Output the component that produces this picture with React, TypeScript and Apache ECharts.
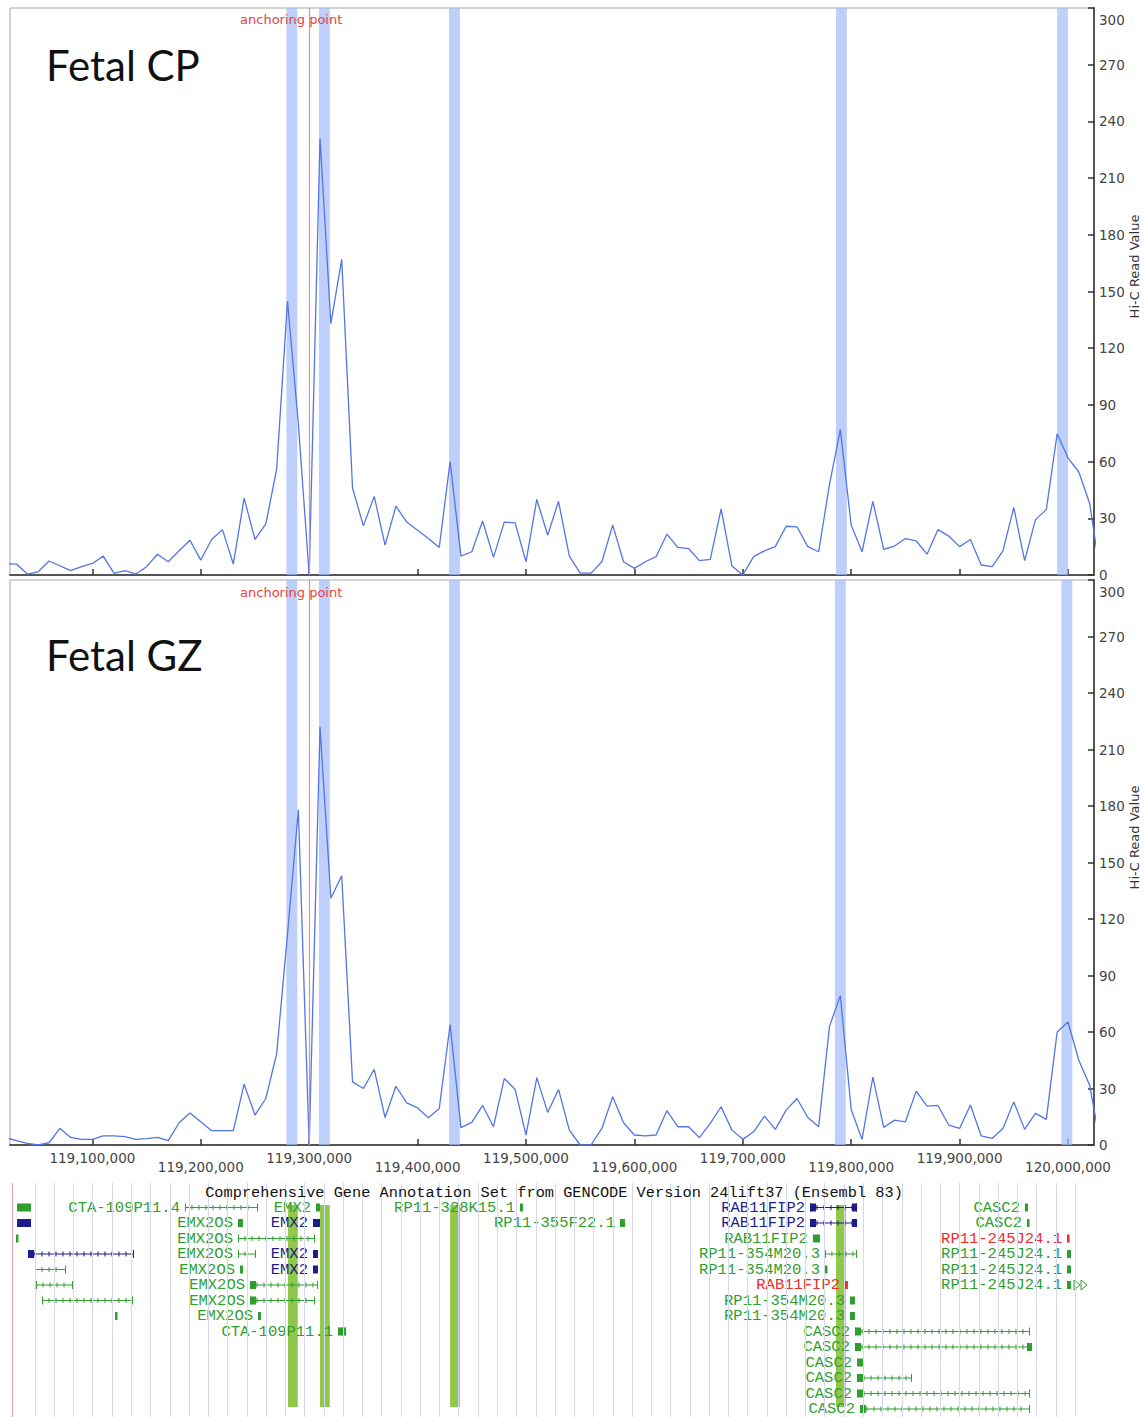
import React, { useEffect, useRef } from 'react';
import * as echarts from 'echarts';

// ---------- data ----------
const X_MIN = 119024000;
const X_MAX = 120024000;
const BIN_START = 119020000;
const BIN_SIZE = 10000;
const ANCHOR = 119300000;

const cpValues = [
  6, 5.8, 0.5, 1.7, 7.4, 4.9, 2.3, 4.4, 6.1, 10,
  0.9, 2.3, 0.5, 4.4, 11, 7, 12.8, 18.4, 7.9, 18.8,
  24, 5.8, 40.7, 18.8, 27, 56, 145, 80, 0, 231,
  133, 167, 46, 26, 41.6, 15.8, 36.4, 28, 23.7, 19.3,
  14.6, 60, 10, 12.3, 28.6, 9.3, 28, 27.6, 7, 40,
  21, 39, 10, 1, 1, 7, 26.4, 7, 3.5, 7,
  9.7, 21.6, 14.6, 14, 7.6, 8.3, 35, 4.7, 0, 9.7,
  12.8, 15, 25.8, 25.5, 15, 12.3, 48, 77, 26.4, 12.3,
  39, 13.5, 15.3, 19.3, 18, 11, 24, 20.6, 15, 18.8,
  5.3, 4.4, 12.8, 35.7, 7.6, 29.3, 34.6, 74.7, 62, 54.5,
  37.8, 0,
];

const gzValues = [
  4, 2.3, 0.9, 0, 1.2, 8.8, 4, 3, 3, 4.8,
  4.8, 4.4, 3, 3.4, 4, 2.3, 11.8, 17, 12.3, 7.6,
  7.6, 7.6, 32.3, 15.9, 24.7, 48.5, 112, 178, 0, 222,
  131, 143, 33.5, 30, 40.2, 14.6, 31.2, 22.4, 19.7, 14.5,
  19.4, 63.9, 9.2, 12, 21, 9.7, 35.3, 29.5, 5.3, 35.8,
  17.3, 29.5, 7.9, 0, 0, 8.8, 25.6, 11.8, 5.3, 4.8,
  5.3, 18.2, 9.7, 9.7, 3.9, 11.5, 20.3, 7.9, 3, 7,
  15.3, 8.3, 18.5, 24.7, 14.6, 9.7, 63, 79.4, 18.9, 3,
  36.1, 9.3, 13.2, 12.3, 28.6, 20.6, 21, 10.6, 8.8, 21.2,
  4.8, 3.5, 8.8, 22.9, 8.3, 16.8, 13.6, 60, 65.3, 45,
  31.7, 0,
];

const xTickValues = [
  119100000, 119200000, 119300000, 119400000, 119500000,
  119600000, 119700000, 119800000, 119900000, 120000000,
];
const Y_MAX = 300;
const Y_INTERVAL = 30;
const Y_NAME = 'Hi-C Read Value';

const BAND_WIDTH = 10000;
const cpBandStarts = [119279000, 119309000, 119429000, 119786000, 119990000];
const gzBandStarts = [119279000, 119309000, 119429000, 119785000, 119994000];

const GREEN_BAR_WIDTH = 9000;
const greenBarStarts = [119280500, 119310000, 119430000, 119786000];
const GREEN_BAR_TOP_ROW = 0.84;
const GREEN_BAR_BOTTOM_ROW = 13.87;

const ANNO_GRID_START = 119047000;
const ANNO_GRID_STEP = 17770;
const ANNO_GRID_COUNT = 55;
const ANNO_RED_LINE = 119026500;

const annotationTitle =
  'Comprehensive Gene Annotation Set from GENCODE Version 24lift37 (Ensembl 83)';

const geneNames = [
  '', 'CTA-109P11.4', 'EMX2', 'RP11-328K15.1', 'RAB11FIP2', 'CASC2',
  '', 'EMX2OS', 'EMX2', 'RP11-355F22.1', 'RAB11FIP2', 'CASC2',
  '', 'EMX2OS', 'RAB11FIP2', 'RP11-245J24.1',
  '', 'EMX2OS', 'EMX2', 'RP11-354M20.3', 'RP11-245J24.1',
  '', 'EMX2OS', 'EMX2', 'RP11-354M20.3', 'RP11-245J24.1',
  '', 'EMX2OS', 'RAB11FIP2', 'RP11-245J24.1',
  '', 'EMX2OS', 'RP11-354M20.3',
  '', 'EMX2OS', 'RP11-354M20.3',
  'CTA-109P11.1', 'CASC2',
  'CASC2', 'CASC2', 'CASC2', 'CASC2', 'CASC2',
];
const geneRows = [
  1, 1, 1, 1, 1, 1,
  2, 2, 2, 2, 2, 2,
  3, 3, 3, 3,
  4, 4, 4, 4, 4,
  5, 5, 5, 5, 5,
  6, 6, 6, 6,
  7, 7, 7,
  8, 8, 8,
  9, 9,
  10, 11, 12, 13, 14,
];
const geneStarts = [
  119030500, 119185400, 119306300, 119494500, 119762000, 119960300,
  119030500, 119234300, 119303500, 119586700, 119762000, 119962200,
  119029500, 119234300, 119764700, 119999100,
  119040600, 119234300, 119303500, 119775800, 119999100,
  119047100, 119236200, 119303500, 119775800, 119999100,
  119048000, 119245400, 119794300, 119999100,
  119053500, 119245400, 119798900,
  119120900, 119252800, 119798900,
  119326600, 119803500,
  119803500, 119805400, 119805400, 119805400, 119808100,
];
const geneEnds = [
  119043400, 119252800, 119310000, 119497200, 119805400, 119963100,
  119043400, 119238900, 119310000, 119591300, 119805400, 119964000,
  119031400, 119305400, 119771200, 120000900,
  119138400, 119250900, 119308100, 119805400, 120002800,
  119075700, 119238900, 119308100, 119777700, 120002800,
  119082100, 119308100, 119797000, 120002800,
  119137500, 119305400, 119803500,
  119121800, 119255500, 119803500,
  119334000, 119965000,
  119966800, 119810900, 119856100, 119965000, 119965000,
];
const geneColors = [
  'g', 'g', 'g', 'g', 'n', 'g',
  'n', 'g', 'n', 'g', 'n', 'g',
  'g', 'g', 'g', 'r',
  'n', 'g', 'n', 'g', 'g',
  'g', 'g', 'n', 'g', 'g',
  'g', 'g', 'r', 'g',
  'g', 'g', 'g',
  'g', 'g', 'g',
  'g', 'g',
  'g', 'g', 'g', 'g', 'g',
];
const geneShapes = [
  'box', 'line', 'box', 'box', 'lineLR', 'box',
  'box', 'box', 'box', 'box', 'lineLR', 'box',
  'box', 'line', 'box', 'box',
  'lineL', 'line', 'box', 'line', 'box',
  'line', 'box', 'box', 'box', 'box',
  'line', 'lineL', 'box', 'boxArrow',
  'line', 'lineL', 'box',
  'box', 'box', 'box',
  'lineLR', 'lineL',
  'lineLR', 'box', 'lineL', 'lineL', 'lineL',
];

// ---------- styles ----------
const COLORS: Record<string, string> = { g: '#2f9e2f', n: '#1c1c8a', r: '#ee2c2c' };
const LINE_COLOR = '#5276e4';
const BAND_COLOR = 'rgba(165,188,250,0.72)';
const ANCHOR_COLOR = '#f28c8c';
const AXIS_COLOR = '#555555';
const LABEL_COLOR = '#444444';
const AXIS_FONT = '"DejaVu Sans", Verdana, sans-serif';
const MONO_FONT = '"Liberation Mono", "DejaVu Sans Mono", monospace';

const fmt = (v: number) => String(v).replace(/\B(?=(\d{3})+(?!\d))/g, ',');

function makeSeriesData(values: number[]) {
  return values.map((v, i) => [BIN_START + i * BIN_SIZE, v]);
}

function bandAreas(starts: number[], width: number) {
  return starts.map((s) => [{ xAxis: s }, { xAxis: s + width }]);
}

function yAxisFor(gridIndex: number) {
  return {
    gridIndex,
    type: 'value',
    position: 'right',
    min: 0,
    max: Y_MAX,
    interval: Y_INTERVAL,
    axisLine: { show: true, lineStyle: { color: AXIS_COLOR, width: 2 } },
    axisTick: { show: true, inside: true, length: 6, lineStyle: { color: '#333', width: 1.5 } },
    axisLabel: {
      color: LABEL_COLOR,
      fontFamily: AXIS_FONT,
      fontSize: 13.5,
      margin: 5,
      formatter: (v: number) => (v === Y_MAX ? `{t|${v}}` : String(v)),
      rich: { t: { padding: [24, 0, 0, 0], color: LABEL_COLOR, fontFamily: AXIS_FONT, fontSize: 13.5 } },
    },
    splitLine: { show: false },
  };
}

function xAxisFor(gridIndex: number, withLabels: boolean) {
  return {
    gridIndex,
    type: 'value',
    min: X_MIN,
    max: X_MAX,
    axisLine: { show: true, onZero: false, lineStyle: { color: AXIS_COLOR, width: 2 } },
    axisTick: {
      show: true,
      inside: true,
      length: 6,
      customValues: xTickValues,
      lineStyle: { color: '#333', width: 1.5 },
    },
    axisLabel: withLabels
      ? {
          show: true,
          customValues: xTickValues,
          color: LABEL_COLOR,
          fontFamily: AXIS_FONT,
          fontSize: 13.5,
          margin: 6,
          formatter: (v: number) => {
            const idx = Math.round((v - xTickValues[0]) / 100000);
            return idx % 2 === 0 ? `{u|${fmt(v)}}` : `{d|${fmt(v)}}`;
          },
          rich: {
            u: { lineHeight: 14, color: LABEL_COLOR, fontFamily: AXIS_FONT, fontSize: 13.5 },
            d: { lineHeight: 32, color: LABEL_COLOR, fontFamily: AXIS_FONT, fontSize: 13.5 },
          },
        }
      : { show: false },
    splitLine: { show: false },
  };
}

function renderGene(params: any, api: any) {
  const i = api.value(3);
  const s = api.coord([api.value(0), api.value(2)]);
  const e = api.coord([api.value(1), api.value(2)]);
  const y = s[1];
  const x0 = s[0];
  const x1 = Math.max(e[0], x0 + 2.5);
  const color = COLORS[geneColors[i]];
  const shape = geneShapes[i];
  const children: any[] = [];
  if (shape === 'box' || shape === 'boxArrow') {
    children.push({ type: 'rect', shape: { x: x0, y: y - 4, width: x1 - x0, height: 8 }, style: { fill: color } });
    if (shape === 'boxArrow') {
      for (let k = 0; k < 2; k++) {
        const ax = x1 + 3 + k * 7;
        children.push({
          type: 'polyline',
          shape: { points: [[ax, y - 5], [ax + 6, y], [ax, y + 5], [ax, y - 5]] },
          style: { stroke: color, fill: 'none', lineWidth: 1 },
        });
      }
    }
  } else {
    children.push({ type: 'line', shape: { x1: x0, y1: y, x2: x1, y2: y }, style: { stroke: color, lineWidth: 1 } });
    children.push({ type: 'line', shape: { x1: x0 + 0.5, y1: y - 4, x2: x0 + 0.5, y2: y + 4 }, style: { stroke: color, lineWidth: 1 } });
    children.push({ type: 'line', shape: { x1: x1 - 0.5, y1: y - 4, x2: x1 - 0.5, y2: y + 4 }, style: { stroke: color, lineWidth: 1 } });
    for (let hx = x0 + 7; hx < x1 - 4; hx += 7) {
      children.push({ type: 'line', shape: { x1: hx, y1: y - 2.5, x2: hx, y2: y + 2.5 }, style: { stroke: color, lineWidth: 1 } });
    }
    if (shape === 'lineL' || shape === 'lineLR') {
      children.push({ type: 'rect', shape: { x: x0, y: y - 4, width: Math.min(6, x1 - x0), height: 8 }, style: { fill: color } });
    }
    if (shape === 'lineLR') {
      children.push({ type: 'rect', shape: { x: Math.max(x0, x1 - 5), y: y - 4, width: Math.min(5, x1 - x0), height: 8 }, style: { fill: color } });
    }
  }
  if (geneNames[i]) {
    children.push({
      type: 'text',
      style: {
        text: geneNames[i],
        x: x0 - 5,
        y: y + 0.5,
        align: 'right',
        verticalAlign: 'middle',
        fill: color,
        font: `15.5px ${MONO_FONT}`,
      },
    });
  }
  return { type: 'group', children };
}

export default function App() {
  const ref = useRef<HTMLDivElement>(null);

  useEffect(() => {
    if (!ref.current) return;
    const chart = echarts.init(ref.current, undefined, { renderer: 'svg' });

    const annoGridLines = Array.from({ length: ANNO_GRID_COUNT }, (_, k) => ({
      xAxis: ANNO_GRID_START + k * ANNO_GRID_STEP,
    }));

    const gridBase = { outerBoundsMode: 'none', containLabel: false };

    const option: any = {
      animation: false,
      backgroundColor: '#ffffff',
      title: [
        {
          text: 'Fetal CP',
          left: 46,
          top: 44,
          padding: 0,
          textStyle: { fontFamily: 'Lato, "Open Sans", sans-serif', fontSize: 42, fontWeight: 'normal', color: '#111' },
        },
        {
          text: 'Fetal GZ',
          left: 46,
          top: 634,
          padding: 0,
          textStyle: { fontFamily: 'Lato, "Open Sans", sans-serif', fontSize: 42, fontWeight: 'normal', color: '#111' },
        },
        {
          text: annotationTitle,
          left: 554,
          top: 1185,
          padding: 0,
          textAlign: 'center',
          textStyle: { fontFamily: MONO_FONT, fontSize: 15.3, fontWeight: 'normal', color: '#111' },
        },
      ],
      grid: [
        { ...gridBase, left: 10, top: 8, width: 1084, height: 567, show: true, borderColor: '#a8a8a8', borderWidth: 1, backgroundColor: 'transparent' },
        { ...gridBase, left: 10, top: 580, width: 1084, height: 565, show: true, borderColor: '#a8a8a8', borderWidth: 1, backgroundColor: 'transparent' },
        { ...gridBase, left: 10, top: 1183, width: 1084, height: 234 },
      ],
      xAxis: [
        xAxisFor(0, false),
        xAxisFor(1, true),
        { gridIndex: 2, type: 'value', min: X_MIN, max: X_MAX, show: false },
      ],
      yAxis: [
        yAxisFor(0),
        yAxisFor(1),
        { gridIndex: 2, type: 'value', min: -0.58, max: 14.517, inverse: true, show: false },
      ],
      series: [
        // bands (behind)
        {
          type: 'line', xAxisIndex: 0, yAxisIndex: 0, data: [], z: 1, silent: true,
          markArea: { silent: true, itemStyle: { color: BAND_COLOR }, data: bandAreas(cpBandStarts, BAND_WIDTH) },
        },
        {
          type: 'line', xAxisIndex: 1, yAxisIndex: 1, data: [], z: 1, silent: true,
          markArea: { silent: true, itemStyle: { color: BAND_COLOR }, data: bandAreas(gzBandStarts, BAND_WIDTH) },
        },
        // anchor lines
        {
          type: 'line', xAxisIndex: 0, yAxisIndex: 0, data: [], z: 2, silent: true,
          markLine: { silent: true, symbol: 'none', label: { show: false }, lineStyle: { color: ANCHOR_COLOR, width: 1.2, type: 'solid' }, data: [{ xAxis: ANCHOR }] },
        },
        {
          type: 'line', xAxisIndex: 1, yAxisIndex: 1, data: [], z: 2, silent: true,
          markLine: { silent: true, symbol: 'none', label: { show: false }, lineStyle: { color: ANCHOR_COLOR, width: 1.2, type: 'solid' }, data: [{ xAxis: ANCHOR }] },
        },
        // Hi-C lines
        {
          name: 'Fetal CP', type: 'line', xAxisIndex: 0, yAxisIndex: 0, data: makeSeriesData(cpValues),
          showSymbol: false, clip: true, z: 3, lineStyle: { color: LINE_COLOR, width: 1.3 },
        },
        {
          name: 'Fetal GZ', type: 'line', xAxisIndex: 1, yAxisIndex: 1, data: makeSeriesData(gzValues),
          showSymbol: false, clip: true, z: 3, lineStyle: { color: LINE_COLOR, width: 1.3 },
        },
        // annotation vertical grid
        {
          type: 'line', xAxisIndex: 2, yAxisIndex: 2, data: [], z: 0, silent: true,
          markLine: {
            silent: true, symbol: 'none', label: { show: false },
            lineStyle: { color: '#d4d7ee', width: 1, type: 'solid' },
            data: annoGridLines,
          },
        },
        {
          type: 'line', xAxisIndex: 2, yAxisIndex: 2, data: [], z: 0, silent: true,
          markLine: {
            silent: true, symbol: 'none', label: { show: false },
            lineStyle: { color: '#f0a0a0', width: 1, type: 'solid' },
            data: [{ xAxis: ANNO_RED_LINE }],
          },
        },
        // genes
        {
          type: 'custom', xAxisIndex: 2, yAxisIndex: 2, z: 3, silent: true,
          renderItem: renderGene,
          encode: { x: [0, 1], y: 2 },
          data: geneNames.map((_, i) => [geneStarts[i], geneEnds[i], geneRows[i], i]),
        },
        // green highlight bars
        {
          type: 'line', xAxisIndex: 2, yAxisIndex: 2, data: [], z: 6, silent: true,
          markArea: {
            silent: true,
            itemStyle: { color: 'rgba(138,198,64,0.95)' },
            data: greenBarStarts.map((s) => [
              { xAxis: s, yAxis: GREEN_BAR_TOP_ROW },
              { xAxis: s + GREEN_BAR_WIDTH, yAxis: GREEN_BAR_BOTTOM_ROW },
            ]),
          },
        },
      ],
    };

    chart.setOption(option);

    const px0 = chart.convertToPixel({ xAxisIndex: 0 }, ANCHOR) as number;
    const pxRight = chart.convertToPixel({ xAxisIndex: 0 }, X_MAX) as number;
    const py0 = chart.convertToPixel({ yAxisIndex: 0 }, Y_MAX) as number;
    const py1 = chart.convertToPixel({ yAxisIndex: 1 }, Y_MAX) as number;
    const pz0 = chart.convertToPixel({ yAxisIndex: 0 }, 0) as number;
    const pz1 = chart.convertToPixel({ yAxisIndex: 1 }, 0) as number;

    const anchorText = (x: number, y: number) => ({
      type: 'text',
      x: x - 18,
      y,
      z: 10,
      style: {
        text: 'anchoring point',
        fill: '#ea4040',
        font: `13px ${AXIS_FONT}`,
        align: 'center',
        verticalAlign: 'middle',
      },
    });
    const axisName = (yTop: number, yBottom: number) => ({
      type: 'text',
      x: pxRight + 40,
      y: (yTop + yBottom) / 2 - 25,
      rotation: Math.PI / 2,
      z: 10,
      style: {
        text: Y_NAME,
        fill: '#333',
        font: `13px ${AXIS_FONT}`,
        align: 'center',
        verticalAlign: 'middle',
      },
    });
    chart.setOption({
      graphic: [
        anchorText(px0, py0 + 11),
        anchorText(px0, py1 + 12),
        axisName(py0, pz0),
        axisName(py1, pz1),
      ],
    });

    return () => chart.dispose();
  }, []);

  return (
    <div
      ref={ref}
      style={{ position: 'absolute', left: 0, top: 0, width: 1147, height: 1417, background: '#fff' }}
    />
  );
}
